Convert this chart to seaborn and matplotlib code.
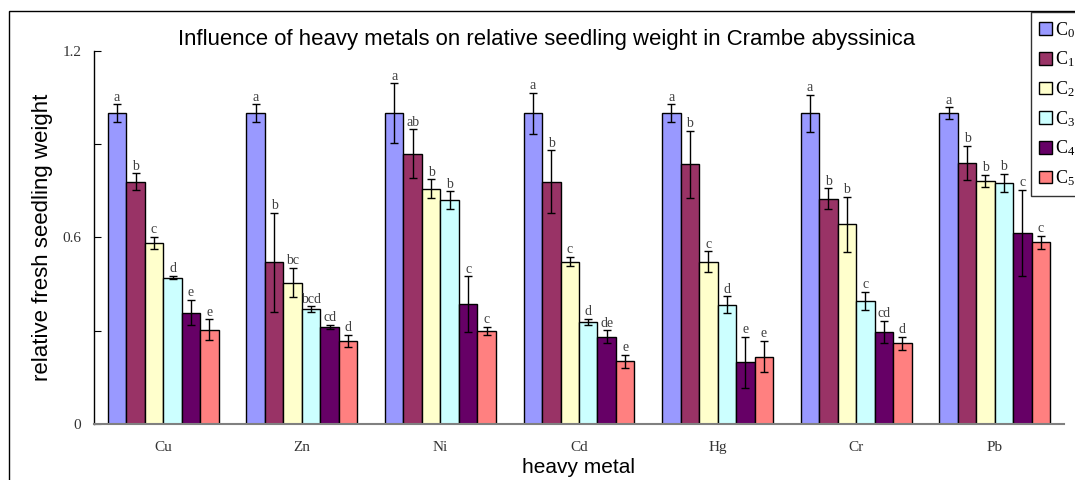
import pandas as pd
import numpy as np
import matplotlib
matplotlib.use('Agg')
import matplotlib.pyplot as plt
import matplotlib.patches as mpatches
import seaborn as sns

# %%
# data (relative fresh seedling weight)
metals = ['Cu', 'Zn', 'Ni', 'Cd', 'Hg', 'Cr', 'Pb']
levels = ['C0', 'C1', 'C2', 'C3', 'C4', 'C5']

c0 = [1.00, 1.00, 1.00, 1.00, 1.00, 1.00, 1.00]
c1 = [0.78, 0.52, 0.87, 0.78, 0.835, 0.725, 0.84]
c2 = [0.583, 0.455, 0.757, 0.522, 0.522, 0.642, 0.783]
c3 = [0.471, 0.369, 0.72, 0.328, 0.384, 0.396, 0.775]
c4 = [0.358, 0.313, 0.385, 0.281, 0.198, 0.297, 0.615]
c5 = [0.303, 0.267, 0.299, 0.202, 0.217, 0.259, 0.585]

e0 = [0.028, 0.028, 0.096, 0.066, 0.028, 0.06, 0.019]
e1 = [0.027, 0.16, 0.078, 0.1, 0.108, 0.033, 0.055]
e2 = [0.019, 0.048, 0.03, 0.015, 0.033, 0.088, 0.019]
e3 = [0.005, 0.01, 0.029, 0.011, 0.027, 0.029, 0.03]
e4 = [0.041, 0.007, 0.09, 0.021, 0.082, 0.035, 0.139]
e5 = [0.034, 0.02, 0.014, 0.021, 0.05, 0.022, 0.021]

l0 = ['a', 'a', 'a', 'a', 'a', 'a', 'a']
l1 = ['b', 'b', 'ab', 'b', 'b', 'b', 'b']
l2 = ['c', 'bc', 'b', 'c', 'c', 'b', 'b']
l3 = ['d', 'bcd', 'b', 'd', 'd', 'c', 'b']
l4 = ['e', 'cd', 'c', 'de', 'e', 'cd', 'c']
l5 = ['e', 'd', 'c', 'e', 'e', 'd', 'c']

colors = ['#9999FF', '#993366', '#FFFFCC', '#CCFFFF', '#660066', '#FF8080']

# %%
vals = [c0, c1, c2, c3, c4, c5]
errs = [e0, e1, e2, e3, e4, e5]
lets = [l0, l1, l2, l3, l4, l5]

rows = []
for i, lv in enumerate(levels):
    for j, m in enumerate(metals):
        rows.append({'metal': m, 'level': lv, 'weight': vals[i][j],
                     'err': errs[i][j], 'letter': lets[i][j]})
df = pd.DataFrame(rows)

# %%
sns.set_style('ticks')
plt.rcParams['font.family'] = ['Liberation Serif', 'DejaVu Serif']
plt.rcParams['mathtext.default'] = 'regular'
plt.rcParams['text.color'] = 'black'
plt.rcParams['axes.labelcolor'] = 'black'
plt.rcParams['xtick.color'] = 'black'
plt.rcParams['ytick.color'] = 'black'

fig = plt.figure(figsize=(10.75, 4.8), dpi=100)
ax = fig.add_axes([94 / 1075, 1 - 424 / 480, 970 / 1075, 373 / 480])

sns.barplot(x='metal', y='weight', hue='level', data=df, order=metals,
            hue_order=levels, palette=colors, saturation=1,
            edgecolor='black', linewidth=1, errorbar=None, ax=ax)

# error bars and significance letters on top of each bar
bar_conts = list(ax.containers)
for i, cont in enumerate(bar_conts):
    for j, bar in enumerate(cont):
        xc = bar.get_x() + bar.get_width() / 2
        h = bar.get_height()
        e = errs[i][j]
        ax.errorbar(xc, h, yerr=e, color='black', capsize=3,
                    elinewidth=1, capthick=1)
        ax.text(xc, h + e + 0.002, lets[i][j], ha='center', va='bottom',
                fontsize=10, color='#404040')

ax.set_xlim(-0.5, 6.5)
ax.set_ylim(0, 1.2)
ax.set_yticks([0, 0.3, 0.6, 0.9, 1.2])
ax.set_yticklabels(['0', '', '0.6', '', '1.2'])
ax.tick_params(axis='y', direction='in', length=5, pad=9, labelsize=11,
               color='black', labelcolor='#333333')
ax.tick_params(axis='x', length=0, pad=12, labelsize=11, labelcolor='#333333')
for s in ['top', 'right']:
    ax.spines[s].set_visible(False)
ax.spines['left'].set_color('black')
ax.spines['left'].set_linewidth(1)
ax.spines['bottom'].set_color('#808080')
ax.spines['bottom'].set_linewidth(1.5)

ax.set_xlabel('heavy metal', fontsize=15, family=['Liberation Sans'])
ax.xaxis.set_label_coords(0.5, -0.092)
ax.set_ylabel('relative fresh seedling weight', fontsize=16,
              family=['Liberation Sans'], labelpad=7)

fig.text(547 / 1075, 1 - 40 / 480,
         'Influence of heavy metals on relative seedling weight in Crambe abyssinica',
         ha='center', va='center', fontsize=15.9, family=['Liberation Sans'])

# legend on the right edge
handles = [mpatches.Patch(facecolor=c, edgecolor='black', linewidth=1)
           for c in colors]
labels = ['$C_{%d}$' % k for k in range(6)]
ax.get_legend().remove()
leg = fig.legend(handles, labels, loc='upper left',
                 bbox_to_anchor=(1031 / 1075, 1 - 12 / 480),
                 bbox_transform=fig.transFigure, frameon=True,
                 fancybox=False, edgecolor='black', fontsize=13,
                 handlelength=0.7, handleheight=0.7, handletextpad=0.2,
                 labelspacing=0.55, borderpad=0.45, borderaxespad=0)
leg.get_frame().set_linewidth(1)

# outer frame around the chart
fig.patches.append(mpatches.Rectangle((9 / 1075, -0.1), 1.2, 1 - 11 / 480 + 0.1,
                                      transform=fig.transFigure, fill=False,
                                      edgecolor='black', linewidth=1))

plt.savefig('out.png', dpi=100)
